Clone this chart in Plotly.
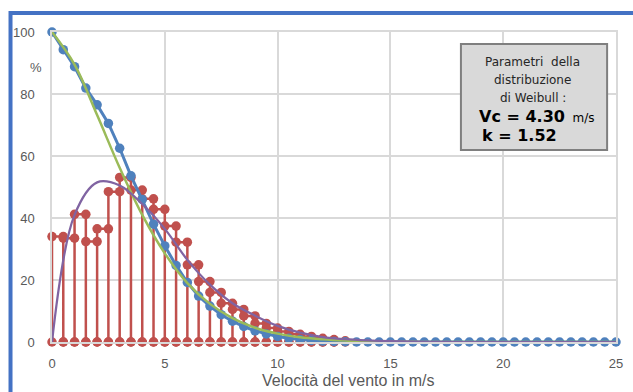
import plotly.graph_objects as go

# Wind-speed histogram: bins of 0.5 m/s starting at 0, heights per bin
bin_width = 0.5
hist_heights = [34.0, 33.5, 41.2, 32.4, 36.5, 48.5, 53.1, 49.0, 46.2, 42.8,
                37.4, 32.2, 24.9, 19.5, 16.0, 12.5, 10.5, 8.4, 6.0, 4.5,
                3.4, 2.5, 1.8, 1.2, 0.8, 0.4]

# Observed exceedance (%) sampled every 0.5 m/s from 0 to 25
obs_speed = [i * 0.5 for i in range(51)]
obs_exceed = [100, 94.3, 88.8, 81.9, 76.5, 70.5, 62.5, 53.6, 46.0, 38.0,
              31.0, 24.7, 19.2, 14.8, 11.6, 8.8, 6.7, 5.0, 3.6, 2.6,
              1.8, 1.2, 0.8, 0.5, 0.3, 0.2, 0.1] + [0] * 24

# Weibull fit curves, sampled every 1 m/s
fit_speed = list(range(26))
fit_exceed = [100, 89.5, 73.2, 56.2, 41.0, 28.6, 19.0, 12.3, 7.7, 4.6,
              2.7, 1.5, 0.9, 0.5, 0.25, 0.1, 0.05, 0, 0, 0,
              0, 0, 0, 0, 0, 0]
fit_density = [0, 41.0, 51.5, 50.5, 44.5, 36.5, 26.5, 18.5, 12.5, 8.5,
               5.2, 3.0, 1.6, 0.9, 0.5, 0.25, 0.1, 0.05, 0, 0,
               0, 0, 0, 0, 0, 0]

x_ticks = [0, 5, 10, 15, 20, 25]
y_ticks = [0, 20, 40, 60, 80, 100]

RED = "#C0504D"
BLUE = "#4F81BD"
GREEN = "#9BBB59"
PURPLE = "#8064A2"
FRAME = "#4472C4"
GRID = "#D9D9D9"
TXT = "#595959"

# histogram outline: up, across, down for every bin
hx, hy = [], []
for i, h in enumerate(hist_heights):
    a = i * bin_width
    hx += [a, a, a + bin_width, a + bin_width]
    hy += [0, h, h, 0]

fig = go.Figure()
fig.add_trace(go.Scatter(x=hx, y=hy, mode="lines+markers",
                         line=dict(color=RED, width=2.5),
                         marker=dict(color=RED, size=9.5),
                         cliponaxis=False, showlegend=False))
fig.add_trace(go.Scatter(x=obs_speed, y=obs_exceed, mode="lines+markers",
                         line=dict(color=BLUE, width=3),
                         marker=dict(color=BLUE, size=9.5),
                         cliponaxis=False, showlegend=False))
fig.add_trace(go.Scatter(x=fit_speed, y=fit_exceed, mode="lines",
                         line=dict(color=GREEN, width=2.5, shape="spline", smoothing=1),
                         cliponaxis=False, showlegend=False))
fig.add_trace(go.Scatter(x=fit_speed, y=fit_density, mode="lines",
                         line=dict(color=PURPLE, width=2.25, shape="spline", smoothing=1),
                         cliponaxis=False, showlegend=False))

W, H = 633, 392
L, R, T, B = 52, 10, 32, 50
pw, ph = W - L - R, H - T - B


def px(x):
    return (x - L) / pw


def py(y):
    return (H - B - y) / ph


fig.update_layout(
    width=W, height=H,
    margin=dict(l=L, r=R, t=T, b=B),
    paper_bgcolor="white", plot_bgcolor="white",
    font=dict(family="Liberation Sans, Arial, sans-serif", color=TXT, size=13),
    xaxis=dict(range=[0, 25], tickvals=x_ticks, showgrid=True, gridcolor=GRID,
               gridwidth=1.5, zeroline=False, showline=True, mirror=True,
               linecolor=GRID, linewidth=1.5, ticks="", ticklabelstandoff=9,
               tickfont=dict(size=13, color=TXT)),
    yaxis=dict(range=[0, 100], tickvals=y_ticks, showgrid=True, gridcolor=GRID,
               gridwidth=1.5, zeroline=False, showline=True, mirror=True,
               linecolor=GRID, linewidth=1.5, ticks="", ticklabelstandoff=13,
               tickfont=dict(size=13, color=TXT)),
    shapes=[
        dict(type="rect", xref="paper", yref="paper",
             x0=px(10), x1=px(660), y0=py(420), y1=py(13),
             line=dict(color=FRAME, width=4), fillcolor="rgba(0,0,0,0)"),
        dict(type="rect", xref="paper", yref="paper",
             x0=px(466), x1=px(614), y0=py(150), y1=py(44),
             line=dict(color="#7F7F7F", width=2), fillcolor="#D9D9D9"),
    ],
)

box_font = "DejaVu Sans, Verdana, sans-serif"
notes = [
    ("%", 36, 67, "center", dict(size=13, color=TXT)),
    ("Velocità del vento in m/s", 352, 380, "center", dict(size=16, color=TXT)),
    ("Parametri&nbsp; della", 538.5, 62, "center", dict(family=box_font, size=12, color="#262626")),
    ("distribuzione", 538.5, 80, "center", dict(family=box_font, size=12, color="#262626")),
    ("di Weibull :", 538.5, 98, "center", dict(family=box_font, size=12, color="#262626")),
    ("<b><span style='font-size:16px'>Vc = 4.30</span></b>&nbsp; m/s", 482, 116, "left",
     dict(family=box_font, size=12, color="#000000")),
    ("<b>k = 1.52</b>", 485, 135, "left", dict(family=box_font, size=16, color="#000000")),
]
for text, x, y, anchor, font in notes:
    fig.add_annotation(text=text, xref="paper", yref="paper", x=px(x), y=py(y),
                       xanchor=anchor, yanchor="middle", showarrow=False, font=font)

fig.write_html("out.html")
